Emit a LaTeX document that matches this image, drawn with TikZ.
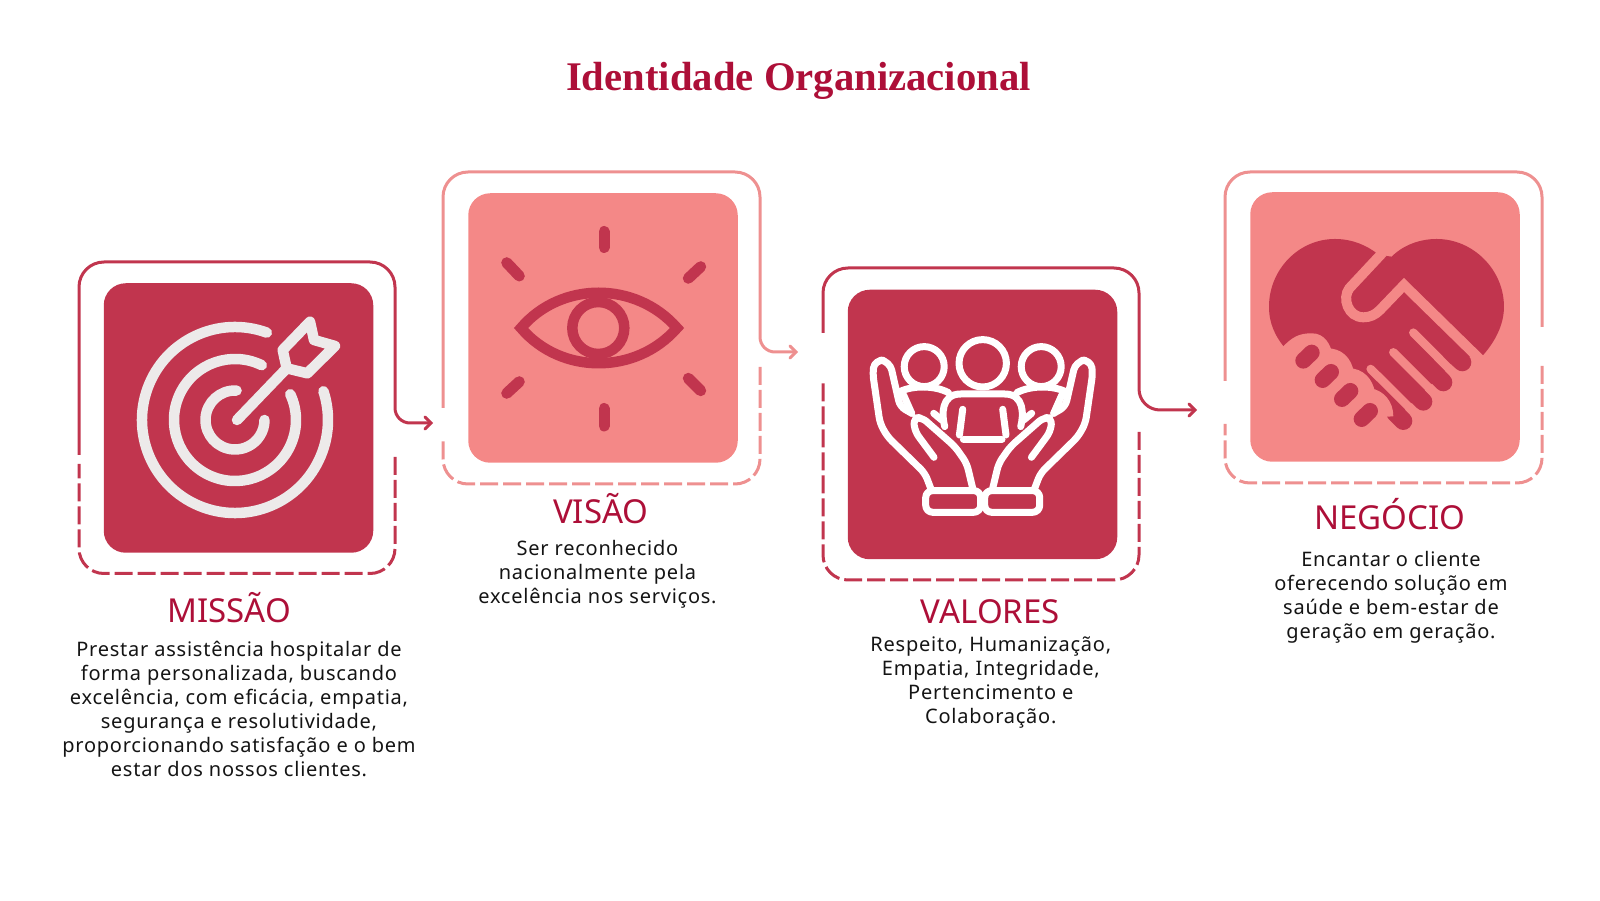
\documentclass[tikz,border=0pt]{standalone}
\usepackage{fontspec}
\usetikzlibrary{positioning,arrows.meta}
\newfontfamily\bodyfont[LetterSpace=3.8]{Noto Sans}
\newfontfamily\headfont{Noto Sans}
\newfontfamily\titlefont[Ligatures=TeX]{Liberation Serif}
\definecolor{darkred}{HTML}{C1354E}
\definecolor{lightred}{HTML}{F48887}
\definecolor{framelight}{HTML}{EE9090}
\definecolor{titlered}{HTML}{AD0F38}
\definecolor{inkblack}{HTML}{141414}
\definecolor{offwhite}{HTML}{EDEAEA}

\begin{document}
\begin{tikzpicture}[x=1pt,y=1pt,>={Straight Barb[length=6pt,width=12pt,line cap=round]},
	tile/.style={rectangle,rounded corners=22pt,minimum size=269.5pt,inner sep=0pt},
	solidframe/.style={line width=3pt},
	dashframe/.style={line width=3pt,rounded corners=25pt,dash pattern=on 18pt off 5pt},
	heading/.style={anchor=base,text=titlered,font=\headfont\fontsize{33}{38}\selectfont},
	bodytext/.style={align=center,text=inkblack,font=\bodyfont\fontsize{20}{24}\selectfont},
	iconline/.style={line width=10.5pt,line cap=round,line join=round},
	peopleline/.style={white,line width=7pt,line cap=round,line join=round},
	fingerline/.style={darkred,line width=18pt,line cap=round},
	gapline/.style={lightred,line width=8.5pt,line cap=round},
	]
	\useasboundingbox (0,0) rectangle (1600,900);

	\node[anchor=base,text=titlered,font=\titlefont\bfseries\fontsize{40.7}{44}\selectfont] (title) at (798.5,809) {Identidade Organizacional};

	% tiles
	\node[tile,fill=darkred] (tile1) at (238.5,482) {};
	\node[tile,fill=lightred] (tile2) at (603,572) {};
	\node[tile,fill=darkred] (tile3) at (982.5,475.5) {};
	\node[tile,fill=lightred] (tile4) at (1385,573) {};

	% arrow ends
	\coordinate (tip1) at (433,477);
	\coordinate (tip2) at (798,548);
	\coordinate (tip3) at (1197,490);

	% frames
	\draw[solidframe,darkred,->,rounded corners=25pt] (79,445) -- (79,638) -- (395,638) [rounded corners=15pt] -- (395,477) -- (tip1);
	\draw[dashframe,darkred] (395,443) -- (395,326.5) -- (79,326.5) -- (79,436);
	\draw[solidframe,framelight,->,rounded corners=25pt] (443,492) -- (443,728) -- (760,728) [rounded corners=15pt] -- (760,548) -- (tip2);
	\draw[dashframe,framelight] (760,533) -- (760,416) -- (443,416) -- (443,461);
	\draw[solidframe,darkred,->,rounded corners=25pt] (823,567) -- (823,632) -- (1139,632) [rounded corners=21pt] -- (1139,490) -- (tip3);
	\draw[dashframe,darkred] (1139,468) -- (1139,320) -- (823,320) -- (823,518);
	\draw[solidframe,framelight,rounded corners=25pt] (1225,519) -- (1225,728) -- (1542,728) -- (1542,573);
	\draw[dashframe,framelight] (1542,534) -- (1542,417) -- (1225,417) -- (1225,476);

	% target
	\begin{scope}[shift={(235pt,480pt)}]
		\draw[iconline,offwhite] (70:93) arc (70:378:93);
		\draw[iconline,offwhite] (64:61) arc (64:385:61);
		\draw[iconline,offwhite] (87:29.5) arc (87:360:29.5);
		\draw[iconline,offwhite] (2,0) -- (51.7,51.7);
		\draw[iconline,offwhite] (51.7,51.7) -- (47.7,70) -- (75,98.3) -- (79,80) -- (100,74) -- (72.3,46.7) -- cycle;
	\end{scope}

	% eye
	\begin{scope}[shift={(603pt,572pt)}]
		\draw[darkred,line width=10.5pt,line join=miter] (-82,0) .. controls (-42,47) and (33,47) .. (74,0) .. controls (33,-47) and (-42,-47) .. (-82,0) -- cycle;
		\draw[darkred,line width=10.5pt] (-4.7,0) circle (26);
		\draw[iconline,line width=11pt,darkred] (1,80.5) -- (1,96.5);
		\draw[iconline,line width=11pt,darkred] (1,-80.5) -- (1,-98);
		\draw[iconline,line width=11pt,darkred] (-83.7,52) -- (-96.3,65.3);
		\draw[iconline,line width=11pt,darkred] (85.3,49.7) -- (97.7,61.3);
		\draw[iconline,line width=11pt,darkred] (-83.7,-53.7) -- (-96.3,-65.3);
		\draw[iconline,line width=11pt,darkred] (85.3,-50.3) -- (97.7,-62.7);
	\end{scope}

	% people in hands
	\begin{scope}[shift={(982.7pt,476.7pt)}]
		\draw[peopleline] (0,60) circle (23.7);
		\foreach \s in {1,-1} {
			\begin{scope}[xscale=\s]
				\draw[peopleline] (-58.5,56.7) circle (20);
				\draw[peopleline] (-82.7,31.7) .. controls (-70,38) and (-48,38) .. (-34.3,30.7);
				\draw[peopleline] (-79,28) -- (-71,10);
				\draw[peopleline] (-49,10) -- (-41,3.3);
				\draw[peopleline,rounded corners=6pt] (-52,-65) -- (-57.7,-50) -- (-95.3,-13.3) -- (-102.7,0) -- (-110,50) [rounded corners=9pt] -- (-108,64) -- (-93,62) [rounded corners=6pt] -- (-82.7,16.7) -- (-71,10);
				\draw[peopleline,rounded corners=6pt] (-48.7,-34) -- (-67.7,-8.3) -- (-69.3,5) -- (-61,6) -- (-27.7,-23.3) -- (-16,-40) -- (-10,-65);
				\draw[peopleline] (-20,14) -- (-23.3,-11.7);
				\draw[peopleline,rounded corners=7pt] (-57,-67.3) rectangle (-2,-89);
			\end{scope}
		}
		\draw[peopleline] (-38,-3.3) .. controls (-41,8) and (-42,29.3) .. (-22,29.3) -- (22,29.3) .. controls (42,29.3) and (41,8) .. (38,-3.3);
		\draw[peopleline] (-19.3,-16) -- (19.3,-16);
	\end{scope}

	% handshake heart
	\begin{scope}[x=.3333pt,y=-.3333pt,shift={(1200pt,740pt)}]
		\fill[darkred] (260,570) .. controls (225,530) and (207,490) .. (207,440) .. controls (207,330) and (295,237) .. (405,237) .. controls (455,237) and (500,255) .. (537,285) -- (575,290) .. controls (610,255) and (660,237) .. (710,237) .. controls (820,237) and (912,330) .. (912,440) .. controls (912,495) and (885,545) .. (848,587) -- (815,590) -- (772,592) -- (715,652) -- (655,710) -- (595,768) -- (590,775) -- (565,770) .. controls (565,730) and (540,705) .. (510,700) .. controls (505,665) and (480,640) .. (447,640) .. controls (440,600) and (415,580) .. (382,580) .. controls (375,560) and (365,535) .. (335,535) .. controls (300,535) and (285,545) .. (260,570) -- cycle;
		\draw[fingerline] (720,547) -- (787,607);
		\draw[fingerline] (650,587) -- (730,667);
		\draw[fingerline] (600,655) -- (670,725);
		\draw[fingerline] (585,758) -- (610,783);
		\draw[lightred,line width=10pt,line join=miter] (548,278) -- (448,385) .. controls (425,415) and (445,472) .. (490,472) .. controls (510,472) and (525,465) .. (540,450) -- (612,375) -- (850,608);
		\draw[gapline] (640,518) -- (775,654);
		\draw[gapline] (580,577) -- (715,712);
		\draw[gapline] (512,627) -- (655,769);
		\draw[lightred,line width=10pt] (258,572) .. controls (285,545) and (300,535) .. (335,535) .. controls (365,535) and (375,560) .. (382,580) .. controls (415,580) and (440,600) .. (447,640) .. controls (480,640) and (505,665) .. (510,700) .. controls (540,705) and (565,730) .. (565,770);
		\draw[darkred,line width=16pt,line cap=round] (310,602) -- (335,578);
		\draw[darkred,line width=16pt,line cap=round] (368,660) -- (393,636);
		\draw[darkred,line width=16pt,line cap=round] (426,717) -- (451,693);
		\draw[darkred,line width=16pt,line cap=round] (485,777) -- (510,753);
	\end{scope}

	% texts
	\node[heading] (head1) at (229,277.3) {MISSÃO};
	\node[heading] (head2) at (600.7,376.7) {VISÃO};
	\node[heading] (head3) at (990.3,276.7) {VALORES};
	\node[heading] (head4) at (1389.7,370.7) {NEGÓCIO};

	\node[bodytext] (body1) at (239,191) {Prestar assistência hospitalar de\\forma personalizada, buscando\\excelência, com eficácia, empatia,\\segurança e resolutividade,\\proporcionando satisfação e o bem\\estar dos nossos clientes.};
	\node[bodytext] (body2) at (597.5,326) {Ser reconhecido\\nacionalmente pela\\excelência nos serviços.};
	\node[bodytext] (body3) at (990.8,217) {Respeito, Humanização,\\Empatia, Integridade,\\Pertencimento e\\Colaboração.};
	\node[bodytext] (body4) at (1391,303) {Encantar o cliente\\oferecendo solução em\\saúde e bem-estar de\\geração em geração.};
\end{tikzpicture}
\end{document}
